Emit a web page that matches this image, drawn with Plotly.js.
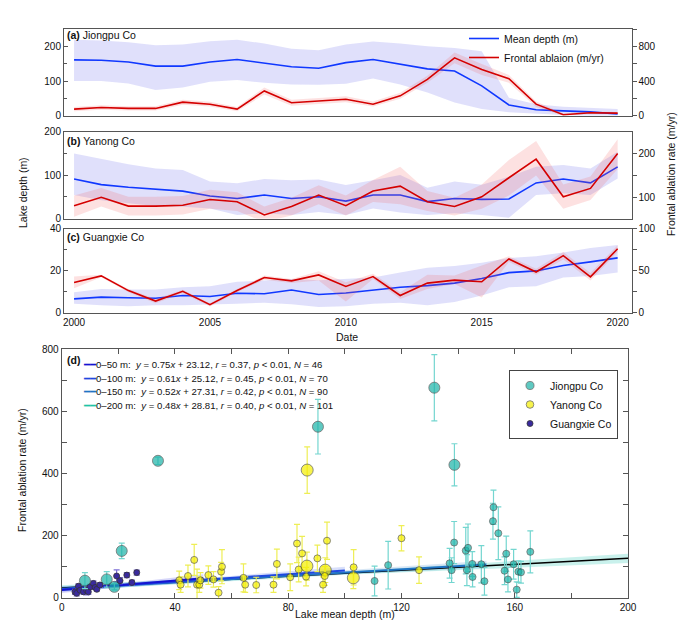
<!DOCTYPE html>
<html><head><meta charset="utf-8">
<script src="https://cdn.plot.ly/plotly-3.0.1.min.js"></script>
<style>html,body{margin:0;padding:0;background:#fff}#chart{width:700px;height:636px}</style>
</head><body><div id="chart"></div>
<script>
// ---------------- DATA ----------------
const years = [2000,2001,2002,2003,2004,2005,2006,2007,2008,2009,2010,2011,2012,2013,2014,2015,2016,2017,2018,2019,2020];

// (a) Jiongpu Co
const jiongpuDepth   = [161,160,155,143,143,155,162,152,141,137,153,162,148,135,129,86,31,17,14,11,5];
const jiongpuDepthLo = [100,100,93,74,81,98,103,95,90,89,92,107,90,67,38,19,10,5,2,0,0];
const jiongpuDepthHi = [219,217,212,203,205,215,219,208,193,189,205,214,208,200,195,186,52,33,26,22,19];
const jiongpuAbl     = [76,95,84,84,156,133,76,286,149,171,190,133,229,419,667,533,427,133,11,34,30];
const jiongpuAblLo   = [50,70,60,60,125,105,50,245,115,135,155,105,195,380,605,470,380,100,0,22,20];
const jiongpuAblHi   = [100,120,110,110,185,160,100,325,185,205,225,165,265,460,730,595,470,165,25,48,42];

// (b) Yanong Co
const yanongDepth   = [91,78,72,67,63,52,46,54,46,50,40,54,54,39,46,44,45,82,91,82,119];
const yanongDepthLo = [54,42,35,29,27,23,8,12,8,15,8,23,14,8,12,8,2,54,58,54,92];
const yanongDepthHi = [150,138,125,115,112,85,81,91,88,90,77,88,100,71,85,78,96,119,123,115,154];
const yanongAbl     = [82,101,81,81,83,96,91,61,80,106,82,115,126,91,80,102,145,187,102,121,200];
const yanongAblLo   = [57,80,60,60,62,75,70,45,60,85,60,90,85,70,60,75,105,150,75,95,165];
const yanongAblHi   = [105,122,102,102,104,118,112,80,100,128,105,140,170,115,100,130,185,228,130,148,232];

// (c) Guangxie Co
const guangxieDepth   = [6.5,7.3,7.0,6.8,8.1,7.6,9.2,8.9,10.7,8.6,9.3,10.7,12.0,12.8,14.0,16.2,19.0,19.8,22.4,24.1,26.0];
const guangxieDepthLo = [4.2,3.4,3.0,3.4,3.4,3.7,4.2,4.7,3.9,2.6,3.0,4.2,4.7,3.4,5.0,8.1,12.0,12.5,16.7,17.4,19.0];
const guangxieDepthHi = [9.6,11.2,10.9,10.9,12.0,12.5,14.6,15.1,15.9,15.4,16.2,16.7,19.0,21.3,22.1,23.7,26.0,26.8,28.6,30.7,32.2];
const guangxieAbl     = [35.8,43.6,26.1,13.6,25.3,9.3,26.1,41.6,37.7,44.7,31.1,42.8,20.2,35.0,38.5,36.6,63.8,48.2,67.7,42.4,75.9];
const guangxieAblLo   = [29,42,24,11,23,7,24,39,35,38,13,40,16,28,34,18,60,45,63,38,72];
const guangxieAblHi   = [43,45,28,16,27,11,28,44,40,49,36,46,24,45,44,56,67,52,72,47,80];

// (d) scatter: lake mean depth vs frontal ablation rate
const jpX   = [8.2,15.9,18.6,21.2,34.0,90.5,131.6,138.7,110.5,115.3,137.0,137.7,138.6,142.7,143.5,143.1,145.0,145.1,148.2,149.3,152.3,152.5,154.2,156.4,157.0,157.6,159.6,160.7,161.3,162.2,165.5];
const jpY   = [53,57,33,149,440,550,676,427,52,103,109,87,176,150,159,87,107,65,106,51,245,290,206,85,140,57,106,24,82,80,146];
const jpErr = [26,25,10,25,12,88,107,68,48,77,48,40,68,75,77,50,40,32,60,45,58,55,85,45,57,40,48,25,35,35,68];
const jpBig = [1,1,1,1,1,1,1,1,0,0,0,0,0,0,0,0,0,0,0,0,0,0,0,0,0,0,0,0,0,0,0];

const ynX   = [41.5,42.0,44.6,46.8,47.8,48.6,49.0,51.8,53.6,55.4,56.3,56.6,64.2,64.8,68.7,74.8,76.0,80.7,83.1,83.7,84.9,86.6,86.3,90.3,93.1,92.9,92.3,93.7,103.0,103.1,120.0,126.2,86.7];
const ynY   = [54,40,68,120,40,40,54,71,57,14,82,98,62,40,39,40,107,64,173,89,141,100,66,125,87,68,40,182,62,96,190,87,410];
const ynErr = [30,25,35,50,50,25,25,30,25,20,30,55,45,25,25,25,48,43,62,40,55,45,30,43,40,30,25,60,35,57,41,43,75];
const ynBig = [0,0,0,0,0,0,0,0,0,0,0,0,0,0,0,0,0,0,0,0,0,1,0,0,1,0,0,0,1,0,0,0,1];

const gxX   = [4.7,5.3,5.9,6.5,7.7,8.8,9.4,10.0,11.2,11.8,12.4,13.5,19.4,20.6,23.0,24.8,26.5];
const gxY   = [17,12,35,22,17,22,17,33,44,31,25,39,68,53,71,47,79];
const gxErr = [8,8,8,6,8,15,8,8,8,6,6,8,20,10,8,8,8];

// regression fits (as labelled in the chart)
const fitRange     = ['0\u201350 m','0\u2013100 m','0\u2013150 m','0\u2013200 m'];
const fitSlope     = ['0.75','0.61','0.52','0.48'];
const fitIntercept = ['23.12','25.12','27.31','28.81'];
const fitR         = ['0.37','0.45','0.42','0.40'];
const fitN         = [46,70,90,101];
const fitLineX     = [[0,50],[0,100],[0,150],[0,200]];
const fitLineY     = [[23,61],[25,86],[27,105],[29,125]];
const fitBandX     = [[0,25,50],[0,50,100],[0,75,150],[0,100,200]];
const fitBandLo    = [[13,36,48],[17,50,74],[20,62,94],[20,72,110]];
const fitBandHi    = [[33,48,74],[33,61,98],[35,71,117],[38,82,140]];

// ---------------- STYLE ----------------
const FONT = 'Arial, "Liberation Sans", sans-serif';
const BLUE = '#1038ff', RED = '#d40000';
const BLUEFILL = 'rgba(100,100,235,0.20)', REDFILL = 'rgba(245,90,90,0.18)';
const FRAME = '#555';
const fitColors = ['#1414d2','#1f48e0','#1f74c4','#1fc4a6'];
const fitLineColors = ['#1414d2','#1f48e0','#1f74c4','#000000'];
const fitFills = ['rgba(30,30,220,0.18)','rgba(40,80,230,0.18)','rgba(40,120,200,0.18)','rgba(40,200,180,0.25)'];

const px = p => p / 700;
const py = p => 1 - p / 636;

const traces = [];
function band(x, lo, hi, xa, ya, fill) {
  traces.push({x:x, y:lo, xaxis:xa, yaxis:ya, mode:'lines', line:{width:0, color:fill}, showlegend:false, hoverinfo:'skip'});
  traces.push({x:x, y:hi, xaxis:xa, yaxis:ya, mode:'lines', line:{width:0, color:fill}, fill:'tonexty', fillcolor:fill, showlegend:false, hoverinfo:'skip'});
}
function line(x, y, xa, ya, color, name, show, rank) {
  traces.push({x:x, y:y, xaxis:xa, yaxis:ya, mode:'lines', line:{width:1.6, color:color}, name:name,
    showlegend:!!show, legend:'legend', legendrank:rank || 1000});
}

// panel a
band(years, jiongpuDepthLo, jiongpuDepthHi, 'x', 'y', BLUEFILL);
line(years, jiongpuDepth, 'x', 'y', BLUE, 'Mean depth (m)', true, 1);
band(years, jiongpuAblLo, jiongpuAblHi, 'x', 'y2', REDFILL);
line(years, jiongpuAbl, 'x', 'y2', RED, 'Frontal ablaion (m/yr)', true, 2);
// panel b
band(years, yanongDepthLo, yanongDepthHi, 'x2', 'y3', BLUEFILL);
line(years, yanongDepth, 'x2', 'y3', BLUE, '', false);
band(years, yanongAblLo, yanongAblHi, 'x2', 'y4', REDFILL);
line(years, yanongAbl, 'x2', 'y4', RED, '', false);
// panel c
band(years, guangxieDepthLo, guangxieDepthHi, 'x3', 'y5', BLUEFILL);
line(years, guangxieDepth, 'x3', 'y5', BLUE, '', false);
band(years, guangxieAblLo, guangxieAblHi, 'x3', 'y6', REDFILL);
line(years, guangxieAbl, 'x3', 'y6', RED, '', false);

// panel d: fit bands then lines (0-200 at bottom)
for (let i = 3; i >= 0; i--) band(fitBandX[i], fitBandLo[i], fitBandHi[i], 'x4', 'y7', fitFills[i]);
for (let i = 3; i >= 0; i--) {
  traces.push({x:fitLineX[i], y:fitLineY[i], xaxis:'x4', yaxis:'y7', mode:'lines',
    line:{width:i===3?1.5:2, color:fitLineColors[i]}, showlegend:false});
}
function scat(name, x, y, err, big, fill, errc, rank, bigSize, smallSize) {
  traces.push({x:x, y:y, xaxis:'x4', yaxis:'y7', mode:'markers', name:name, legend:'legend2', legendrank:rank,
    marker:{color:fill, size:big ? big.map(b => b ? bigSize : smallSize) : smallSize, line:{color:'#333', width:0.8}},
    error_y:{type:'data', array:err, visible:true, color:errc, thickness:1.2, width:3}});
}
scat('Guangxie Co', gxX, gxY, gxErr, null, '#3a2a9e', '#7d6fd6', 3, 6, 6);
scat('Yanong Co', ynX, ynY, ynErr, ynBig, '#f5ee00', '#eeee55', 2, 12, 7);
scat('Jiongpu Co', jpX, jpY, jpErr, jpBig, '#1bb3a8', '#74d6d0', 1, 11, 7);

// ---------------- LAYOUT ----------------
const tickfont = {family:FONT, size:10, color:'#111'};
const XD = [px(64), px(631.5)];
const XR = [1999.63, 2020.51];
function timeX(anchor, labels) {
  return {domain:XD, range:XR, anchor:anchor, showline:true, mirror:true, linecolor:FRAME, linewidth:1,
    showgrid:false, zeroline:false, ticks:'', showticklabels:labels, tickvals:[2000,2005,2010,2015,2020],
    tickfont:tickfont, fixedrange:true};
}
function leftY(dom, anchor, range, dtick, minor) {
  return {domain:dom, anchor:anchor, range:range, tick0:0, dtick:dtick, ticks:'inside', ticklen:4, tickcolor:FRAME,
    minor:{tick0:0, dtick:minor, ticks:'inside', ticklen:3, tickcolor:FRAME},
    showline:true, mirror:true, linecolor:FRAME, linewidth:1, showgrid:false, zeroline:false, tickfont:tickfont};
}
function rightY(over, anchor, range, dtick, minor) {
  return {overlaying:over, anchor:anchor, side:'right', range:range, tick0:0, dtick:dtick, ticks:'outside', ticklen:4, tickcolor:FRAME,
    minor:{tick0:0, dtick:minor, ticks:'outside', ticklen:4, tickcolor:FRAME},
    showline:true, linecolor:FRAME, linewidth:1, showgrid:false, zeroline:false, tickfont:tickfont};
}

const A = [py(115.7), py(29)], B = [py(218.5), py(131.7)], C = [py(312.5), py(228.5)];
const DX = [px(61.7), px(628)], DY = [py(598), py(349.3)];

const annFont = {family:FONT, size:10.5, color:'#111'};
const annotations = [
  {text:'<b>(a)</b> Jiongpu Co', x:px(65), y:py(35), xanchor:'left', yanchor:'middle'},
  {text:'<b>(b)</b> Yanong Co', x:px(65), y:py(140.5), xanchor:'left', yanchor:'middle'},
  {text:'<b>(c)</b> Guangxie Co', x:px(65), y:py(237), xanchor:'left', yanchor:'middle'},
  {text:'<b>(d)</b>', x:px(64.5), y:py(360), xanchor:'left', yanchor:'middle'},
  {text:'Lake depth (m)', x:px(23), y:py(193), textangle:-90, xanchor:'center', yanchor:'middle'},
  {text:'Frontal ablation rate (m/yr)', x:px(671), y:py(174), textangle:-90, xanchor:'center', yanchor:'middle'},
  {text:'Date', x:px(347), y:py(337), xanchor:'center', yanchor:'middle'},
  {text:'Frontal ablation rate (m/yr)', x:px(22), y:py(470), textangle:-90, xanchor:'center', yanchor:'middle'},
  {text:'Lake mean depth (m)', x:px(345), y:py(614), xanchor:'center', yanchor:'middle'}
];
const rowY = [364.5, 378, 391.5, 405];
for (let i = 0; i < 4; i++) {
  annotations.push({
    text:'<span style="color:' + fitColors[i] + '">\u2501\u2501</span>' + fitRange[i] + ':  <i>y</i> = ' + fitSlope[i] +
      '<i>x</i> + ' + fitIntercept[i] + ', <i>r</i> = ' + fitR[i] + ', <i>p</i> &lt; 0.01, <i>N</i> = ' + fitN[i],
    x:px(81), y:py(rowY[i]), xanchor:'left', yanchor:'middle', font:{family:FONT, size:9.6, color:'#111'}
  });
}
annotations.forEach(a => { a.xref = 'paper'; a.yref = 'paper'; a.showarrow = false; if (!a.font) a.font = annFont; });

const layout = {
  width:700, height:636, margin:{l:0, r:0, t:0, b:0}, paper_bgcolor:'#fff', plot_bgcolor:'rgba(0,0,0,0)',
  font:{family:FONT, size:10, color:'#111'}, showlegend:true, hovermode:false,
  xaxis: timeX('y', false),
  xaxis2: timeX('y3', false),
  xaxis3: timeX('y5', true),
  yaxis: leftY(A, 'x', [0, 250], 100, 50),
  yaxis2: rightY('y', 'x', [0, 1000], 400, 200),
  yaxis3: leftY(B, 'x2', [0, 200], 100, 50),
  yaxis4: rightY('y3', 'x2', [53, 249], 100, 50),
  yaxis5: leftY(C, 'x3', [0, 40], 20, 10),
  yaxis6: rightY('y5', 'x3', [0, 100], 50, 25),
  xaxis4: {domain:DX, anchor:'y7', range:[0, 200], tick0:0, dtick:40, ticks:'inside', ticklen:5, tickcolor:FRAME,
    minor:{tick0:0, dtick:20, ticks:'inside', ticklen:5, tickcolor:FRAME},
    showline:true, mirror:'allticks', linecolor:FRAME, linewidth:1, showgrid:false, zeroline:false, tickfont:tickfont},
  yaxis7: {domain:DY, anchor:'x4', range:[-3, 800], tick0:0, dtick:200, ticks:'inside', ticklen:5, tickcolor:FRAME,
    minor:{tick0:0, dtick:100, ticks:'inside', ticklen:5, tickcolor:FRAME},
    showline:true, mirror:'allticks', linecolor:FRAME, linewidth:1, showgrid:false, zeroline:false, tickfont:tickfont},
  legend:{x:px(464), y:py(24), xanchor:'left', yanchor:'top', bgcolor:'rgba(0,0,0,0)', borderwidth:0,
    font:{family:FONT, size:10.5, color:'#111'}, tracegroupgap:0, traceorder:'normal'},
  legend2:{x:px(509), y:py(370), xanchor:'left', yanchor:'top', bgcolor:'#fff', bordercolor:'#444', borderwidth:1,
    font:{family:FONT, size:10.5, color:'#111'}, itemsizing:'trace', traceorder:'normal'},
  annotations:annotations
};

Plotly.newPlot('chart', traces, layout, {staticPlot:true, displayModeBar:false});
</script></body></html>
